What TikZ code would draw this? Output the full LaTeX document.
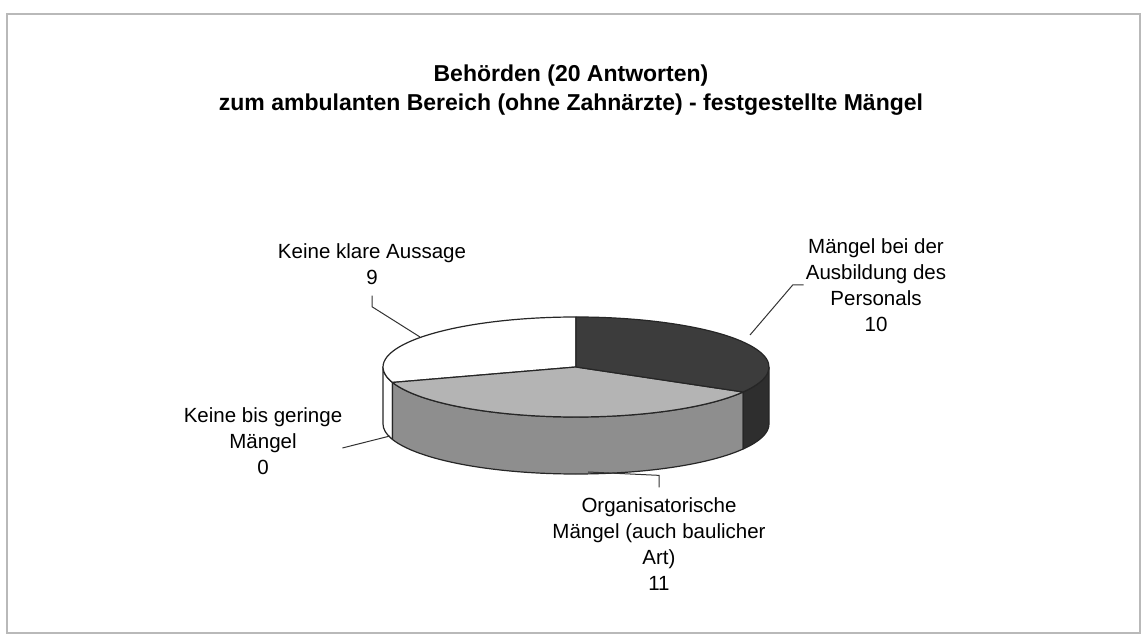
\documentclass[tikz,border=0pt]{standalone}
\usepackage{fontspec}
\setmainfont{Liberation Sans}
\usepackage{tikz}
\usetikzlibrary{positioning}

\definecolor{darktop}{HTML}{3C3C3C}
\definecolor{darkside}{HTML}{2E2E2E}
\definecolor{greytop}{HTML}{B4B4B4}
\definecolor{greyside}{HTML}{8E8E8E}

\begin{document}
\begin{tikzpicture}[x=1pt,y=1pt,
    lbl/.style={align=center,font=\fontsize{20.5}{26}\selectfont,inner sep=0pt},
    leader/.style={draw=black!80,line width=1pt},
    pieedge/.style={draw=black!85,line width=1.2pt,line join=round}]
  \useasboundingbox (0,0) rectangle (1143,636);
  \draw[gray!55,line width=1.5pt] (7,3) rectangle (1140,622);

  \node[font=\bfseries\fontsize{23}{29}\selectfont,align=center] (title) at (571,546)
    {Behörden (20 Antworten)\\zum ambulanten Bereich (ohne Zahnärzte) - festgestellte Mängel};

  \begin{scope}[shift={(576,269)}]
    %sides
    \filldraw[pieedge,fill=white] (180:193pt and 50pt) arc[start angle=180,end angle=198,x radius=193pt,y radius=50pt]
      -- ++(0,-57) arc[start angle=198,end angle=180,x radius=193pt,y radius=50pt] -- cycle;
    \filldraw[pieedge,fill=greyside] (198:193pt and 50pt) arc[start angle=198,end angle=330,x radius=193pt,y radius=50pt]
      -- ++(0,-57) arc[start angle=330,end angle=198,x radius=193pt,y radius=50pt] -- cycle;
    \filldraw[pieedge,fill=darkside] (330:193pt and 50pt) arc[start angle=330,end angle=360,x radius=193pt,y radius=50pt]
      -- ++(0,-57) arc[start angle=360,end angle=330,x radius=193pt,y radius=50pt] -- cycle;
    %tops
    \filldraw[pieedge,fill=white] (0,0) -- (90:193pt and 50pt) arc[start angle=90,end angle=198,x radius=193pt,y radius=50pt] -- cycle;
    \filldraw[pieedge,fill=greytop] (0,0) -- (198:193pt and 50pt) arc[start angle=198,end angle=330,x radius=193pt,y radius=50pt] -- cycle;
    \filldraw[pieedge,fill=darktop] (0,0) -- (-30:193pt and 50pt) arc[start angle=-30,end angle=90,x radius=193pt,y radius=50pt] -- cycle;
  \end{scope}

  \coordinate (p9) at (420,299);
  \coordinate (p10) at (750,301);
  \coordinate (p0) at (390,200);
  \coordinate (p11) at (588,164);

  \node[lbl] (lbl9) at (372,372) {Keine klare Aussage\\9};
  \node[lbl] (lbl10) at (876,351) {Mängel bei der\\Ausbildung des\\Personals\\10};
  \node[lbl] (lbl0) at (263,195) {Keine bis geringe\\Mängel\\0};
  \node[lbl] (lbl11) at (659,92) {Organisatorische\\Mängel (auch baulicher\\Art)\\11};

  %leaders
  \draw[leader] ([yshift=-11pt]lbl9.south) -- ++(0,-11) -- (p9);
  \draw[leader] ([xshift=-2pt]lbl10.west) -- ++(-11,0) -- (p10);
  \draw[leader] ([yshift=-7pt]lbl0.east) -- (p0);
  \draw[leader] ([yshift=10pt]lbl11.north) -- ++(0,12) -- (p11);
\end{tikzpicture}
\end{document}
